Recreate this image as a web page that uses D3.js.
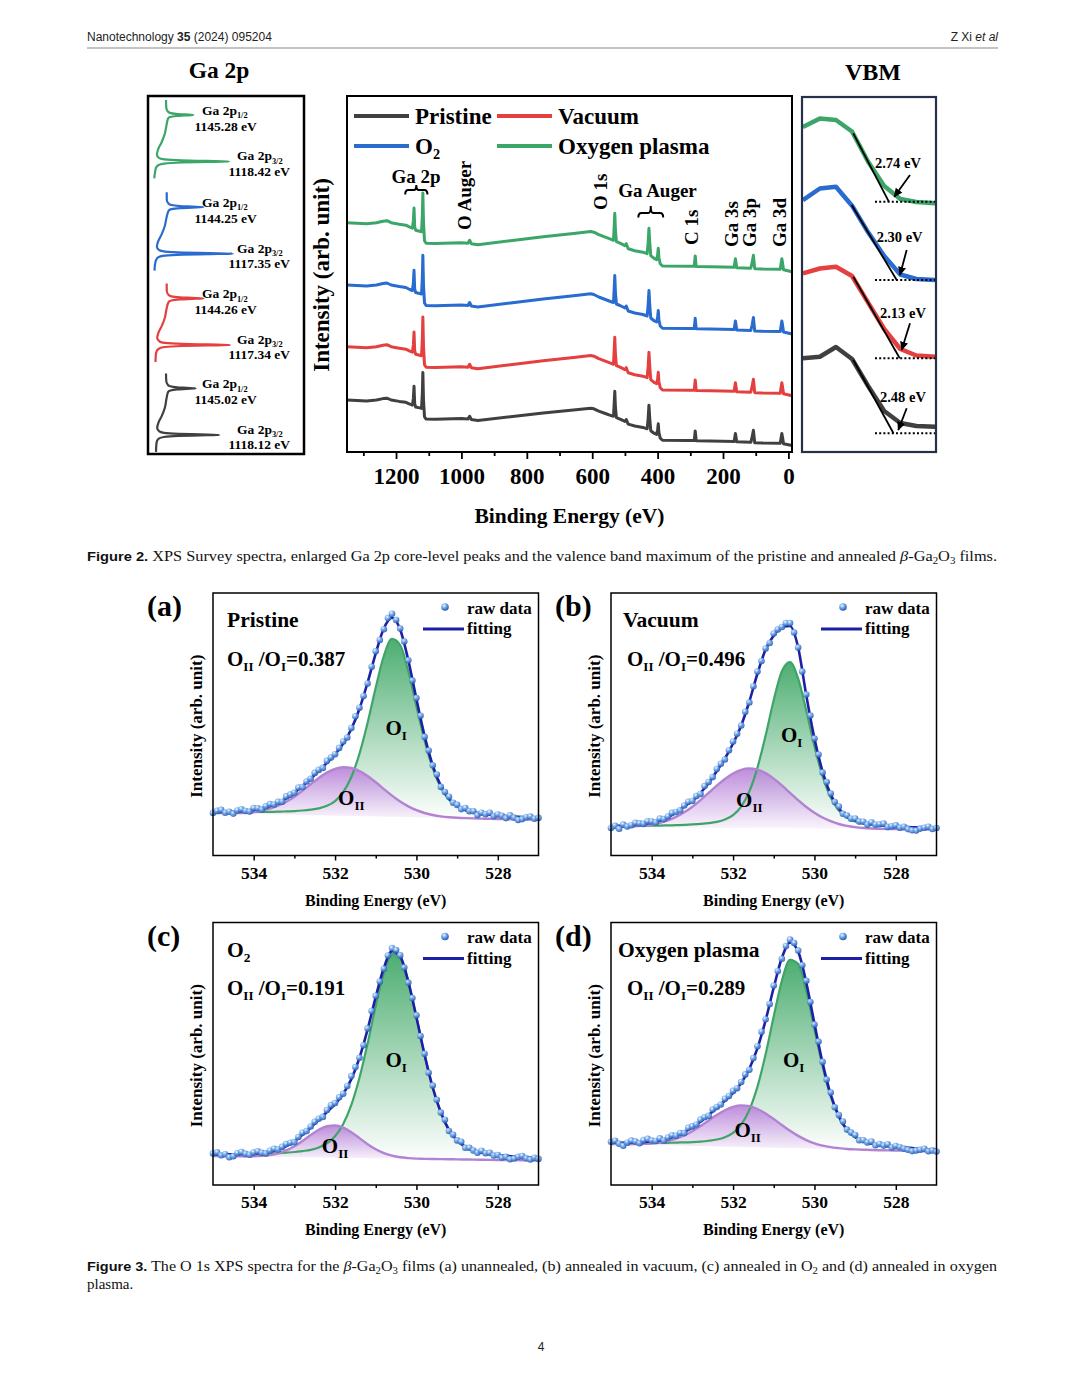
<!DOCTYPE html>
<html>
<head>
<meta charset="utf-8">
<title>XPS survey, Ga 2p, VBM and O 1s spectra</title>
<script src="https://d3js.org/d3.v7.min.js"></script>
<style>
  body { margin: 0; background: #fff; }
</style>
</head>
<body>
<svg id="page" width="1080" height="1386"></svg>
<script>
// ---------------- data ----------------
var samples = ["Pristine", "Vacuum", "O_{2}", "Oxygen plasma"];

// survey: binding energy (eV) and shape relative to each trace's level at 1350 eV
var surveyBE = [1350, 1320, 1290, 1260, 1240, 1228, 1215, 1190, 1170, 1158,
  1150, 1147, 1145, 1143, 1140, 1128, 1122, 1119.5, 1118, 1116,
  1113, 1108, 1080, 1000, 980, 975, 970, 950, 850, 750,
  650, 605, 595, 580, 560, 540, 535, 533, 531, 529,
  526, 515, 500, 496, 490, 470, 445, 432, 429, 426.5,
  424, 421, 410, 403, 400, 398, 396, 392, 385, 300,
  288, 285, 282, 200, 166, 162, 158, 115, 111, 107,
  103, 80, 25, 22, 20, 18, 15, -11];
var surveyShape = [0, -0.5, -1, 0, 1.5, 2, 0, -1.5, -2.5, -4.5,
  -5.5, 2, 14.7, -4, -7.5, -8.5, -9, 8, 29.7, 0,
  -18, -20.5, -20.8, -20, -20.5, -17.5, -21, -22, -18, -14,
  -10.5, -8.8, -9.5, -12, -14.5, -17, -17.5, -5, 9.4, -8,
  -19, -20.5, -23, -21, -26, -28, -29.5, -31, -20, -5.6,
  -20, -33, -36, -37, -32, -25.6, -35, -41, -43.3, -43.5,
  -43.6, -33.3, -43.8, -44.3, -44.5, -36, -45, -45.5, -40, -32.6,
  -46, -46.3, -46.5, -40, -36, -40, -47, -49];
var surveyLevel = [52, 105.3, 167, 229.3];
var surveyGain = [0.93, 1, 1, 1];
var surveyTicks = [1200, 1000, 800, 600, 400, 200, 0];
var surveyMinor = [1300, 1100, 900, 700, 500, 300, 100];
var surveyLabels = ["O Auger", "O 1s", "C 1s", "Ga 3s", "Ga 3p", "Ga 3d"];

// Ga 2p: energy relative to the 2p3/2 peak (eV) and intensity of each sample
var ga2pRel = [35.5, 31.0, 28.9, 28.1, 27.5, 27.2, 26.9, 26.6, 26.3, 25.7,
  24.9, 21.0, 16.0, 11.0, 7.0, 4.0, 2.0, 1.2, 0.6, 0.3,
  0, -0.3, -0.6, -1.2, -2.0, -3.5, -6.0, -9.8];
var ga2pPristine = [18, 18.3, 19.9, 22.2, 29.2, 38.8, 47.7, 38.8, 29.2, 22.4,
  20.2, 18.5, 17.0, 13.8, 10.4, 9.2, 11.3, 15.9, 30.7, 51.8,
  71.3, 51.8, 30.7, 15.9, 11.1, 9.0, 8.3, 8.0];
var ga2pVacuum = [18.7, 18.8, 20.6, 23.3, 32.0, 44.1, 55.4, 44.1, 32.0, 23.4,
  20.7, 18.6, 17.0, 13.8, 10.4, 9.2, 11.6, 16.8, 34.4, 59.3,
  82.2, 59.3, 34.3, 16.7, 11.2, 8.7, 7.8, 7.5];
var ga2pO2 = [18.7, 18.8, 20.6, 23.3, 32.0, 44.1, 55.4, 44.1, 32.0, 23.4,
  20.7, 18.6, 16.8, 13.5, 10.1, 8.9, 11.2, 16.9, 35.1, 61.0,
  84.9, 61.0, 35.0, 16.7, 10.8, 8.2, 7.1, 6.5];
var ga2pPlasma = [18, 18.3, 19.8, 21.9, 28.3, 37.1, 45.3, 37.1, 28.3, 22.1,
  20.1, 18.5, 16.8, 13.5, 10.1, 8.9, 11.0, 16.4, 33.8, 58.4,
  81.2, 58.4, 33.7, 16.2, 10.6, 8.1, 7.1, 6.3];
var ga2p12 = [1145.02, 1144.26, 1144.25, 1145.28];
var ga2p32 = [1118.12, 1117.34, 1117.35, 1118.42];

// valence band edge
var vbmE = [7.55, 6.6, 5.7, 4.8, 3.9, 3.0, 2.1, 1.2, 0.15];
var vbmPristine = [93.7, 95.3, 105, 93, 66, 41, 29, 26, 25.3];
var vbmVacuum = [178.6, 183.5, 185.2, 176, 149.4, 123, 103, 96.5, 95.3];
var vbmO2 = [251.8, 263.5, 265.2, 246.3, 219.7, 196, 177.5, 173, 172];
var vbmPlasma = [325, 333.5, 332, 320.5, 290.3, 266, 253, 250, 248.7];
var vbmEdge = [2.48, 2.13, 2.30, 2.74];
var vbmLevel = [18.7, 93.7, 172, 250.3];
var vbmTanE = [4.73, 4.73, 4.82, 4.73];
var vbmTanI = [92, 175.3, 247, 318.7];

// O 1s fits: components above a linear background, 535 -> 527 eV every 0.2 eV
var o1sLetter = ["(a)", "(b)", "(c)", "(d)"];
var o1sRatio = ["0.387", "0.496", "0.191", "0.289"];
var o1sTicks = [534, 532, 530, 528];
var o1sMinor = [533, 531, 529];
var bgLeft = [42.3, 28.4, 29.0, 41.0];
var bgRight = [35.7, 26.0, 24.5, 33.5];
var oiA = [1.2,1.3,1.4,1.6,1.8,2.0,2.2,2.5,2.8,3.3, 3.8,4.5,5.5,7.0,9.7,14.6,23.7,39.0,62.4,93.5,
  129.0,160.9,177.9,172.0,146.1,111.1,77.1,49.6,30.4,18.5, 11.8,8.1,6.1,4.9,4.1,3.5,3.0,2.7,2.4,2.1, 1.9];
var oiiA = [0.1,0.2,0.3,0.6,1.1,2.0,3.5,5.7,8.8,13.0, 18.2,24.4,30.9,37.4,42.9,46.8,48.6,48.0,45.1,40.3,
  34.2,27.6,21.2,15.5,10.8,7.1,4.5,2.7,1.5,0.8, 0.4,0.2,0.1,0,0,0,0,0,0,0, 0];
var oiB = [1.0,1.1,1.2,1.3,1.5,1.7,1.9,2.1,2.4,2.8, 3.3,3.9,4.7,6.0,8.4,12.9,21.5,36.7,60.6,92.7,
  128.4,157.2,166.2,149.9,117.9,82.4,52.4,31.1,18.3,11.3, 7.4,5.5,4.5,3.6,3.1,2.7,2.3,2.0,1.8,1.6, 1.4];
var oiiB = [0.1,0.3,0.5,1.0,1.7,2.8,4.6,7.2,10.7,15.3, 21.0,27.7,34.9,42.3,49.0,54.5,58.2,59.6,58.5,55.1,
  49.7,43.0,35.6,28.4,21.6,15.9,11.1,7.5,4.8,3.0, 1.8,1.0,0.5,0.3,0.1,0.1,0,0,0,0, 0];
var oiC = [1.6,1.8,2.0,2.1,2.4,2.7,3.0,3.3,3.8,4.4, 5.1,6.2,7.5,10.0,14.3,21.4,33.8,53.1,80.3,114.7,
  152.4,185.4,204.6,200.9,176.5,141.3,104.0,71.5,46.6,29.3, 19.0,12.7,9.1,7.0,5.9,4.8,4.2,3.7,3.2,2.9, 2.6];
var oiiC = [0,0,0,0,0.1,0.3,0.8,1.8,3.6,6.6, 10.9,16.3,22.3,27.7,31.3,32.2,30.2,25.7,19.9,14.0,
  9.0,5.2,2.8,1.3,0.6,0.2,0.1,0,0,0, 0,0,0,0,0,0,0,0,0,0, 0];
var oiD = [1.2,1.3,1.5,1.6,1.8,2.0,2.2,2.5,2.9,3.3, 3.8,4.5,5.5,6.9,9.4,13.9,22.4,37.3,60.8,93.2,
  131.5,167.2,188.3,184.3,157.4,119.7,82.7,52.6,32.0,19.3, 12.3,8.4,6.4,5.2,4.2,3.6,3.2,2.8,2.4,2.1, 1.9];
var oiiD = [0,0.1,0.2,0.4,0.8,1.4,2.5,4.3,6.8,10.3, 14.7,20.0,25.8,31.5,36.4,40.0,41.6,41.1,38.4,34.1,
  28.7,22.9,17.3,12.4,8.4,5.4,3.3,1.9,1.1,0.5, 0.3,0.1,0,0,0,0,0,0,0,0, 0];

// fitted envelopes, same grid
var fitA = [43.6,43.6,43.7,44.0,44.5,45.5,47.0,49.4,52.6,57.1, 62.7,69.4,76.7,84.6,92.6,101.2,112.0,126.5,146.8,173.0,
  202.2,227.3,237.8,226.0,195.2,156.4,119.6,90.2,69.6,56.8, 49.6,45.5,43.2,41.8,40.8,40.0,39.4,38.9,38.4,38.0, 37.6];
var fitB = [29.5,29.7,30.0,30.6,31.6,33.0,35.0,38.0,43.5,49.0, 54.5,62.5,72.5,84.5,97.0,112.0,130.0,154.0,182.0,206.0,
  220.0,228.5,229.5,208.0,160.0,117.0,84.0,61.0,47.0,39.0, 35.0,32.8,31.3,30.3,29.6,29.1,28.6,28.2,27.9,27.7, 27.4];
var fitC = [30.6,30.7,30.8,30.8,31.1,31.4,32.1,33.3,35.5,39.0, 43.9,50.3,57.5,65.2,73.0,80.9,91.2,105.9,127.2,155.6,
  188.2,217.2,233.9,228.6,203.4,167.7,130.2,97.5,72.5,55.0, 44.6,38.2,34.5,32.3,31.1,29.9,29.2,28.5,27.9,27.5, 27.1];
var fitD = [42.2,42.2,42.3,42.4,42.9,43.5,44.6,46.5,49.2,52.9, 57.6,63.4,70.1,77.0,84.2,92.1,102.0,116.2,136.8,164.7,
  197.5,227.2,242.5,233.4,202.3,161.4,122.1,90.4,68.9,55.4, 48.0,43.7,41.4,40.0,38.8,38.0,37.5,36.9,36.3,35.8, 35.4];

// raw O 1s counts, 535 -> 527 eV every 0.1 eV
var rawA = [42.6,44.6,45.6,42.7,43.7,41.9,45,46.3,44.5,44,
  47.5,47.2,46,49.2,51.4,51,53.6,53.8,59.1,60.9,
  62.7,68,68.4,74,76.7,82.6,85.6,87.6,94.6,97.9,
  101.2,107.6,114,118,127.5,139.2,147.8,159.5,172,188.8,
  204.2,215.5,226.3,237.5,241.8,235.5,227,214,195.2,175,
  157.4,139.8,118.6,105,90.2,81,68.6,63.5,58.8,52.8,
  50.6,46.4,47.5,44.3,44.2,40.5,42.8,41.3,42.8,39.4,
  41,39.7,37.4,40.1,37.9,35.6,36.4,38.2,39,36.8, 37.6];
var rawB = [27.5,29.6,26.7,30.9,29.0,30.3,32.6,32.1,31.6,34.3,
  34.0,33.0,37.0,36.4,39.0,42.6,43.5,45.2,50.0,53.7,
  54.5,59.4,61.5,69.4,73.5,78.4,86.5,91.7,96.0,105.3,
  114.0,121.8,130.0,143.7,153.0,169.2,184.0,194.5,207.0,212.5,
  222.0,226.0,228.5,232.5,232.5,223.0,208.0,184.0,161.0,140.0,
  117.0,101.0,83.0,73.5,62.0,53.5,49.0,41.8,40.0,36.8,
  37.0,33.9,33.8,31.0,33.3,30.8,31.3,31.9,28.6,29.3,
  30.1,27.8,28.6,26.4,25.2,25.0,26.9,27.8,28.7,26.5, 27.4];
var rawC = [31.6,32.7,29.7,30.8,27.8,28.8,31.8,33,31.1,30.3,
  32.4,33.7,32.1,31.6,34.3,36.3,35.5,38.1,41,42.3,
  42.9,48,52.3,53.9,58.5,63.3,66.2,68.1,75,79.9,
  81.9,87.7,91.2,99,108.9,117.9,127.2,139.8,156.6,174,
  189.2,203.5,216.2,229.5,236.9,235,229.6,217.5,202.4,187,
  169.7,149,131.2,112.3,99.5,85.2,72.5,65.2,54,50.3,
  44.6,43.2,37.2,37.2,34.5,32.3,34.3,31.7,32.1,29.5,
  29.9,27.5,28.2,25.8,26.5,28.2,28.9,26.7,25.5,27.3, 26.1];
var rawD = [43.2,44.2,41.2,39.3,42.3,44.4,43.4,41.7,44.9,46.2,
  44.5,44,46.6,44.5,47.5,49.8,49.2,52,51.9,57.2,
  58.6,60.5,65.4,67.7,69.1,75.5,78,80.5,86.2,89,
  94.1,96.8,103,110.6,115.2,126.9,138.8,153.2,165.7,181,
  199.5,214,226.2,239,245.5,242,234.4,219.8,204.3,183,
  160.4,143.5,123.1,105.5,92.4,77.8,69.9,63.5,55.4,52.4,
  50,44.7,44.7,42.5,43.4,39.7,41,39.4,40.8,37.4,
  39,37.8,36.5,35.2,33.9,34.6,35.3,36.1,33.8,34.6, 33.4];

// ---------------- drawing ----------------
var SERIF = '"Liberation Serif", "Times New Roman", serif';
var SANS = '"Liberation Sans", Arial, Helvetica, sans-serif';
var colors = ["#404040", "#e3403f", "#2a6bcf", "#3ba668"];

var page = d3.select("#page").attr("font-family", SERIF);

//text with _{..} subscripts
function addText(g, x, y, str, size, anchor) {
  var t = g.append("text").attr("x", x).attr("y", y).attr("font-size", size)
      .attr("text-anchor", anchor || "start");
  var shift = size * 0.24, down = false;
  str.split(/(_\{[^}]*\})/).forEach(function(p) {
    if (p === "") return;
    if (p.indexOf("_{") === 0) {
      t.append("tspan").attr("font-size", size * 0.62).attr("dy", down ? 0 : shift).text(p.slice(2, -1));
      down = true;
    } else {
      t.append("tspan").attr("dy", down ? -shift : 0).text(p);
      down = false;
    }
  });
  return t;
}

var defs = page.append("defs");
var dot = defs.append("radialGradient").attr("id", "dot")
    .attr("cx", "38%").attr("cy", "32%").attr("r", "65%");
dot.append("stop").attr("offset", "0%").attr("stop-color", "#f2f9ff");
dot.append("stop").attr("offset", "45%").attr("stop-color", "#74adec");
dot.append("stop").attr("offset", "100%").attr("stop-color", "#2a5db5");
var gOI = defs.append("linearGradient").attr("id", "fillOI")
    .attr("x1", 0).attr("y1", 0).attr("x2", 0).attr("y2", 1);
gOI.append("stop").attr("offset", "0%").attr("stop-color", "#3aa562");
gOI.append("stop").attr("offset", "100%").attr("stop-color", "#ffffff");
var gOII = defs.append("linearGradient").attr("id", "fillOII")
    .attr("x1", 0).attr("y1", 0).attr("x2", 0).attr("y2", 1);
gOII.append("stop").attr("offset", "0%").attr("stop-color", "#b27ad6");
gOII.append("stop").attr("offset", "100%").attr("stop-color", "#faf5fd");
var mk = defs.append("marker").attr("id", "arrow").attr("viewBox", "0 0 10 10")
    .attr("refX", 9).attr("refY", 5).attr("markerWidth", 9).attr("markerHeight", 9)
    .attr("markerUnits", "userSpaceOnUse").attr("orient", "auto");
mk.append("path").attr("d", "M0,0.5 L10,5 L0,9.5 Z").attr("fill", "#000");

//page header
var h1 = page.append("text").attr("x", 87).attr("y", 41).attr("font-family", SANS)
    .attr("font-size", 12).attr("fill", "#222");
h1.append("tspan").text("Nanotechnology ");
h1.append("tspan").attr("font-weight", "bold").text("35");
h1.append("tspan").text(" (2024) 095204");
var h2 = page.append("text").attr("x", 998).attr("y", 41).attr("font-family", SANS)
    .attr("font-size", 12).attr("fill", "#222").attr("text-anchor", "end");
h2.append("tspan").text("Z Xi ");
h2.append("tspan").attr("font-style", "italic").text("et al");
page.append("line").attr("x1", 87).attr("x2", 998).attr("y1", 48).attr("y2", 48)
    .attr("stroke", "#8a8a8a").attr("stroke-width", 1.2);

// ===== Figure 2 =====
var f2 = page.append("g").attr("font-weight", "bold").attr("fill", "#000");
addText(f2, 219, 78, "Ga 2p", 23.5, "middle");
addText(f2, 873, 80, "VBM", 24, "middle");

//Ga 2p panel
var gx = d3.scaleLinear().domain([0, 156]).range([148, 304]);
var gy = d3.scaleLinear().domain([1155, 1107]).range([0, 83.04]);
var ga2pShift = [371.1, 279.8, 188.5, 98.2];
[ga2pPristine, ga2pVacuum, ga2pO2, ga2pPlasma].forEach(function(vals, k) {
  var pts = ga2pRel.map(function(r, i) { return [vals[i], ga2p32[k] + r]; });
  var line = d3.line()
      .x(function(d) { return gx(d[0]); })
      .y(function(d) { return ga2pShift[k] + gy(d[1]); })
      .curve(d3.curveMonotoneY);
  f2.append("path").attr("d", line(pts)).attr("fill", "none")
      .attr("stroke", colors[k]).attr("stroke-width", 2.2);
  var y12 = ga2pShift[k] + gy(ga2p12[k]), y32 = ga2pShift[k] + gy(ga2p32[k]);
  addText(f2, 202, y12, "Ga 2p_{1/2}", 13.5);
  addText(f2, 194.5, y12 + 15.5, d3.format(".2f")(ga2p12[k]) + " eV", 13.5);
  addText(f2, 237, y32 - 1, "Ga 2p_{3/2}", 13.5);
  addText(f2, 228.5, y32 + 14.5, d3.format(".2f")(ga2p32[k]) + " eV", 13.5);
});
f2.append("rect").attr("x", 148).attr("y", 96).attr("width", 156).attr("height", 358)
    .attr("fill", "none").attr("stroke", "#000").attr("stroke-width", 2.5);

//survey panel
var sx = d3.scaleLinear().domain([1350, -11]).range([347, 792]);
var sy = d3.scaleLinear().domain([0, 356]).range([452, 96]);
var sLine = d3.line().x(function(d) { return sx(d[0]); }).y(function(d) { return sy(d[1]); });
surveyLevel.forEach(function(lv, k) {
  var pts = surveyBE.map(function(e, i) { return [e, lv + surveyShape[i] * surveyGain[k]]; });
  f2.append("path").attr("d", sLine(pts)).attr("fill", "none")
      .attr("stroke", colors[k]).attr("stroke-width", 3).attr("stroke-linejoin", "round");
});

var sAxis = f2.append("g").attr("transform", "translate(0,452)")
    .call(d3.axisBottom(sx).tickValues(surveyTicks).tickSize(7).tickPadding(9).tickFormat(d3.format("d")));
sAxis.attr("font-size", 23).attr("font-family", SERIF).attr("font-weight", "bold");
sAxis.select(".domain").remove();
sAxis.selectAll("line").attr("stroke-width", 1.8);
var sMinor = f2.append("g").attr("transform", "translate(0,452)")
    .call(d3.axisBottom(sx).tickValues(surveyMinor).tickSize(4).tickFormat(""));
sMinor.select(".domain").remove();
sMinor.selectAll("line").attr("stroke-width", 1.8);

addText(f2, 569.5, 523, "Binding Energy (eV)", 21.5, "middle");
addText(f2, 0, 0, "Intensity (arb. unit)", 23, "middle")
    .attr("transform", "translate(329,275) rotate(-90)");

//legend
var legX = [354, 497, 354, 497], legY = [116, 116, 146, 146], legT = [415, 558, 415, 558];
samples.forEach(function(s, k) {
  f2.append("line").attr("x1", legX[k]).attr("x2", legX[k] + 55).attr("y1", legY[k]).attr("y2", legY[k])
      .attr("stroke", colors[k]).attr("stroke-width", 4);
  addText(f2, legT[k], legY[k] + 7.8, s, 23);
});

//peak labels
var labE = [970.8, 556, 276.5, 154.2, 99.1, 8.8];
var labY = [230, 210, 245, 247, 247, 247];
surveyLabels.forEach(function(s, i) {
  f2.append("text").attr("font-size", 19)
      .attr("transform", "translate(" + sx(labE[i]) + "," + labY[i] + ") rotate(-90)").text(s);
});
addText(f2, 416, 183, "Ga 2p", 19, "middle");
addText(f2, 657.5, 197, "Ga Auger", 19, "middle");
function brace(e1, e2, y, up) {
  var a = sx(e1), b = sx(e2), m = (a + b) / 2;
  f2.append("path").attr("fill", "none").attr("stroke", "#000").attr("stroke-width", 2)
      .attr("d", "M" + a + "," + (y + 4.5) + " Q" + a + "," + y + " " + (a + 3) + "," + y +
        " L" + (m - 2.5) + "," + y + " Q" + m + "," + y + " " + m + "," + (y - up) +
        " Q" + m + "," + y + " " + (m + 2.5) + "," + y +
        " L" + (b - 3) + "," + y + " Q" + b + "," + y + " " + b + "," + (y + 4.5));
}
brace(1172, 1104, 190, 5);
brace(459, 383, 213, 7);

f2.append("rect").attr("x", 347).attr("y", 96).attr("width", 445).attr("height", 356)
    .attr("fill", "none").attr("stroke", "#000").attr("stroke-width", 2);

//VBM panel
var vx = d3.scaleLinear().domain([7.6, 0.1]).range([802, 936]);
var vy = d3.scaleLinear().domain([0, 355]).range([452, 97]);
var vbmLab = [[3.235, 55.3], [3.235, 139], [3.42, 215.3], [3.515, 289]];
var vbmArr = [[1.741, 43.7, 2.211, 22], [1.556, 128.7, 2.021, 102],
              [1.741, 202, 2.116, 177], [1.556, 277, 2.435, 255.3]];
[vbmPristine, vbmVacuum, vbmO2, vbmPlasma].forEach(function(vals, k) {
  var line = d3.line().x(function(d, i) { return vx(vbmE[i]); }).y(function(d) { return vy(d); });
  f2.append("path").attr("d", line(vals)).attr("fill", "none")
      .attr("stroke", colors[k]).attr("stroke-width", 4.5).attr("stroke-linejoin", "round");
  f2.append("line").attr("x1", vx(vbmTanE[k])).attr("y1", vy(vbmTanI[k]))
      .attr("x2", vx(vbmEdge[k])).attr("y2", vy(vbmLevel[k]))
      .attr("stroke", "#000").attr("stroke-width", 1.8);
  f2.append("line").attr("x1", vx(3.515)).attr("x2", vx(0.1))
      .attr("y1", vy(vbmLevel[k])).attr("y2", vy(vbmLevel[k]))
      .attr("stroke", "#000").attr("stroke-width", 2).attr("stroke-dasharray", "2,2.2");
  addText(f2, vx(vbmLab[k][0]), vy(vbmLab[k][1]) + 5, d3.format(".2f")(vbmEdge[k]) + " eV", 14.5);
  var a = vbmArr[k];
  f2.append("line").attr("x1", vx(a[0])).attr("y1", vy(a[1])).attr("x2", vx(a[2])).attr("y2", vy(a[3]))
      .attr("stroke", "#000").attr("stroke-width", 1.8).attr("marker-end", "url(#arrow)");
});
f2.append("rect").attr("x", 802).attr("y", 97).attr("width", 134).attr("height", 355)
    .attr("fill", "none").attr("stroke", "#263049").attr("stroke-width", 2.2);

//captions
function caption(y, segs, len) {
  var t = page.append("text").attr("x", 87).attr("y", y).attr("font-size", 15).attr("fill", "#111");
  var down = false;
  segs.forEach(function(s) {
    var ts = t.append("tspan").text(s.t);
    if (s.b) ts.attr("font-family", SANS).attr("font-weight", "bold").attr("font-size", 13.5);
    if (s.i) ts.attr("font-style", "italic");
    if (s.s) { ts.attr("font-size", 10).attr("dy", 3); down = true; }
    else if (down) { ts.attr("dy", -3); down = false; }
  });
  if (len) t.attr("textLength", len).attr("lengthAdjust", "spacingAndGlyphs");
}
caption(561, [{t: "Figure 2.", b: true},
  {t: " XPS Survey spectra, enlarged Ga 2p core-level peaks and the valence band maximum of the pristine and annealed "},
  {t: "\u03b2", i: true}, {t: "-Ga"}, {t: "2", s: true}, {t: "O"}, {t: "3", s: true}, {t: " films."}], 910);

// ===== Figure 3 =====
var f3 = page.append("g").attr("font-weight", "bold").attr("fill", "#000");
var PW = 325.5, PH = 262.5;
var panelLeft = [213, 611, 213, 611], panelTop = [593, 593, 922.5, 922.5];
var letterX = [147, 555, 147, 555];
var nameDx = [14, 12, 14, 7], ratioDx = [14, 16, 14, 16];
var oiLab = [[530.5, 127.5], [530.56, 120.5], [530.5, 125], [530.51, 125]];
var oiiLab = [[531.6, 57.5], [531.6, 55.5], [532.0, 39], [531.64, 55]];
var oiData = [oiA, oiB, oiC, oiD], oiiData = [oiiA, oiiB, oiiC, oiiD];
var fitData = [fitA, fitB, fitC, fitD], rawData = [rawA, rawB, rawC, rawD];
var eGrid = d3.range(41).map(function(i) { return +(535 - 0.2 * i).toFixed(1); });
var eRaw = d3.range(81).map(function(i) { return +(535 - 0.1 * i).toFixed(1); });

o1sLetter.forEach(function(letter, k) {
  var L = panelLeft[k], T = panelTop[k];
  var x = d3.scaleLinear().domain([535, 527]).range([L, L + PW]);
  var y = d3.scaleLinear().domain([0, PH]).range([T + PH, T]);
  var bg = d3.scaleLinear().domain([535, 527]).range([bgLeft[k], bgRight[k]]);
  var rows = eGrid.map(function(e, i) {
    return {e: e, b: bg(e), oi: oiData[k][i], oii: oiiData[k][i], fit: fitData[k][i]};
  });
  var g = f3.append("g");

  var aOI = d3.area().x(function(d) { return x(d.e); }).y0(function(d) { return y(d.b); })
      .y1(function(d) { return y(d.b + d.oi); }).curve(d3.curveMonotoneX);
  var aOII = d3.area().x(function(d) { return x(d.e); }).y0(function(d) { return y(d.b); })
      .y1(function(d) { return y(d.b + d.oii); }).curve(d3.curveMonotoneX);
  g.append("path").attr("d", aOI(rows)).attr("fill", "url(#fillOI)").attr("fill-opacity", 0.9);
  g.append("path").attr("d", aOII(rows)).attr("fill", "url(#fillOII)").attr("fill-opacity", 0.85);
  g.append("path").attr("d", aOI.lineY1()(rows)).attr("fill", "none")
      .attr("stroke", "#3fa468").attr("stroke-width", 2.2);
  g.append("path").attr("d", aOII.lineY1()(rows)).attr("fill", "none")
      .attr("stroke", "#b283d2").attr("stroke-width", 2.4);

  var fit = d3.line().x(function(d) { return x(d.e); })
      .y(function(d) { return y(d.fit); }).curve(d3.curveMonotoneX);
  g.append("path").attr("d", fit(rows)).attr("fill", "none")
      .attr("stroke", "#1d1fa6").attr("stroke-width", 2.6);

  g.selectAll("circle.raw").data(rawData[k]).enter().append("circle").attr("class", "raw")
      .attr("cx", function(d, i) { return x(eRaw[i]); })
      .attr("cy", function(d) { return y(d); })
      .attr("r", 3.3).attr("fill", "url(#dot)").attr("fill-opacity", 0.9);

  //axis
  var ax = g.append("g").attr("transform", "translate(0," + (T + PH) + ")")
      .call(d3.axisBottom(x).tickValues(o1sTicks).tickSize(5).tickPadding(6).tickFormat(d3.format("d")));
  ax.attr("font-size", 17.5).attr("font-family", SERIF).attr("font-weight", "bold");
  ax.select(".domain").remove();
  ax.selectAll("line").attr("stroke-width", 1.5);
  var mn = g.append("g").attr("transform", "translate(0," + (T + PH) + ")")
      .call(d3.axisBottom(x).tickValues(o1sMinor).tickSize(3).tickFormat(""));
  mn.select(".domain").remove();
  mn.selectAll("line").attr("stroke-width", 1.5);

  g.append("rect").attr("x", L).attr("y", T).attr("width", PW).attr("height", PH)
      .attr("fill", "none").attr("stroke", "#000").attr("stroke-width", 1.5);

  addText(g, L + PW / 2, T + PH + 50, "Binding Energy (eV)", 16, "middle");
  addText(g, 0, 0, "Intensity (arb. unit)", 17, "middle")
      .attr("transform", "translate(" + (L - 11) + "," + (T + PH / 2 + 2) + ") rotate(-90)");

  addText(g, letterX[k], T + 23, letter, 30);
  addText(g, L + nameDx[k], T + 34, samples[k], 21.5);
  addText(g, L + ratioDx[k], T + 72.5, "O_{II} /O_{I}=" + o1sRatio[k], 21);
  addText(g, x(oiLab[k][0]), y(oiLab[k][1]) + 7, "O_{I}", 21, "middle");
  addText(g, x(oiiLab[k][0]), y(oiiLab[k][1]) + 7, "O_{II}", 21, "middle");

  //legend
  g.append("circle").attr("cx", L + 232).attr("cy", T + 14).attr("r", 3.8).attr("fill", "url(#dot)");
  addText(g, L + 254, T + 20.5, "raw data", 17);
  g.append("line").attr("x1", L + 210).attr("x2", L + 251).attr("y1", T + 36).attr("y2", T + 36)
      .attr("stroke", "#1d1fa6").attr("stroke-width", 2.8);
  addText(g, L + 254, T + 41, "fitting", 17);
});

caption(1270.5, [{t: "Figure 3.", b: true},
  {t: " The O 1s XPS spectra for the "}, {t: "\u03b2", i: true}, {t: "-Ga"}, {t: "2", s: true},
  {t: "O"}, {t: "3", s: true},
  {t: " films (a) unannealed, (b) annealed in vacuum, (c) annealed in O"}, {t: "2", s: true},
  {t: " and (d) annealed in oxygen"}], 910);
caption(1288.5, [{t: "plasma."}]);

page.append("text").attr("x", 541).attr("y", 1351).attr("text-anchor", "middle")
    .attr("font-family", SANS).attr("font-size", 12).attr("fill", "#222").text("4");
</script>
</body>
</html>
